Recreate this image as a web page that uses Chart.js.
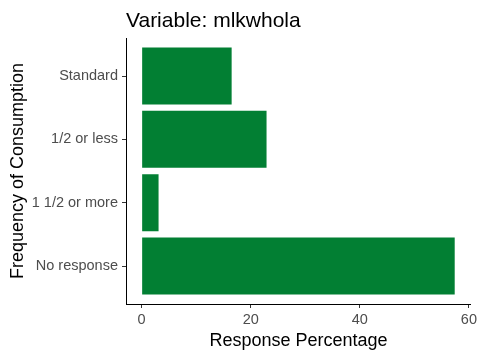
<!DOCTYPE html>
<html>
<head>
<meta charset="utf-8">
<script src="https://cdn.jsdelivr.net/npm/chart.js@4"></script>
<style>
    html, body { margin: 0; padding: 0; background: #fff; }
    canvas { display: block; }
</style>
</head>
<body>
<canvas id="chart" width="480" height="360"></canvas>
<script>
// Chart data
const categories = ['Standard', '1/2 or less', '1 1/2 or more', 'No response'];
const percentages = [16.5, 22.9, 3.1, 57.4];
const xTicks = [0, 20, 40, 60];
const titleText = 'Variable: mlkwhola';

const BAR_COLOR = '#027F33';
const FONT = '"Liberation Sans", Arial, sans-serif';

// ggplot-like expansion: 5% on the continuous axis, 0.6 on the discrete one
const maxVal = Math.max(...percentages);
const xPad = maxVal * 0.05;

const titlePlugin = {
    id: 'leftTitle',
    afterDraw(chart) {
        const ctx = chart.ctx;
        ctx.save();
        ctx.font = '21px ' + FONT;
        ctx.fillStyle = '#000';
        ctx.textBaseline = 'alphabetic';
        ctx.textAlign = 'left';
        ctx.fillText(titleText, chart.chartArea.left, 27);
        ctx.restore();
    }
};

new Chart(document.getElementById('chart'), {
    type: 'bar',
    data: {
        datasets: [{
            data: percentages.map((v, i) => ({ x: v, y: i + 1 })),
            backgroundColor: BAR_COLOR,
            borderWidth: 0,
            barPercentage: 0.9,
            categoryPercentage: 1.0
        }]
    },
    options: {
        indexAxis: 'y',
        responsive: false,
        animation: false,
        layout: { padding: { top: 38, right: 9, bottom: 0, left: 0 } },
        plugins: {
            legend: { display: false },
            tooltip: { enabled: false }
        },
        scales: {
            x: {
                type: 'linear',
                min: -xPad,
                max: maxVal + xPad + 0.1,
                afterBuildTicks: scale => { scale.ticks = xTicks.map(v => ({ value: v })); },
                afterFit: scale => { scale.height = 56; },
                grid: { drawOnChartArea: false, tickLength: 4, tickColor: '#333', tickWidth: 1 },
                border: { display: true, color: '#000', width: 1 },
                ticks: { color: '#4D4D4D', font: { family: FONT, size: 14.5 }, padding: 3 },
                title: {
                    display: true,
                    text: 'Response Percentage',
                    color: '#000',
                    font: { family: FONT, size: 18 },
                    padding: { top: 0, bottom: 8 }
                }
            },
            y: {
                type: 'linear',
                reverse: true,
                offset: false,
                min: 0.4,
                max: 4.6,
                afterBuildTicks: scale => { scale.ticks = categories.map((c, i) => ({ value: i + 1 })); },
                afterFit: scale => { scale.width = 126; },
                grid: { drawOnChartArea: false, offset: false, tickLength: 4, tickColor: '#333', tickWidth: 1 },
                border: { display: true, color: '#000', width: 1 },
                ticks: {
                    color: '#4D4D4D',
                    font: { family: FONT, size: 14.5 },
                    padding: 4,
                    callback: v => categories[v - 1]
                },
                title: {
                    display: true,
                    text: 'Frequency of Consumption',
                    color: '#000',
                    font: { family: FONT, size: 18 },
                    padding: { top: 7, bottom: 0 }
                }
            }
        }
    },
    plugins: [titlePlugin]
});
</script>
</body>
</html>
